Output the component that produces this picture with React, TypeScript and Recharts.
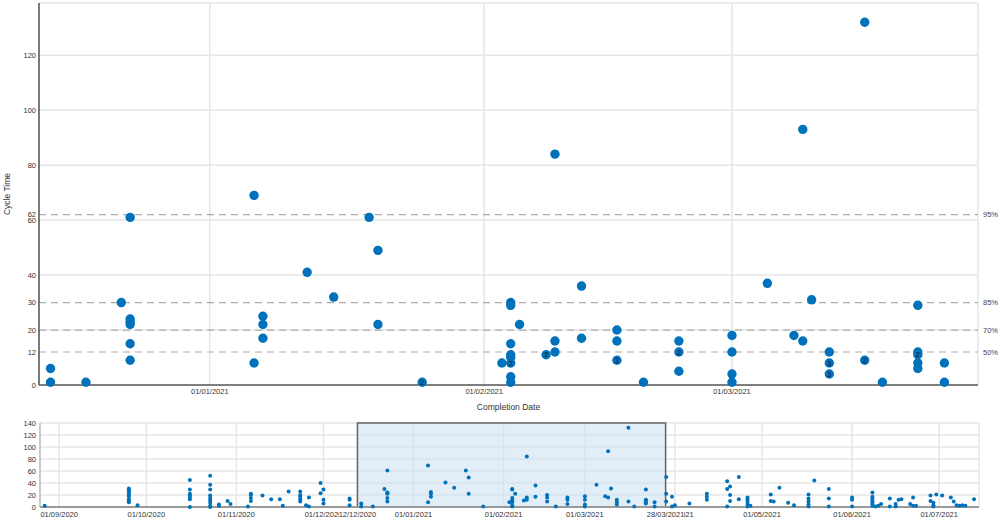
import { ScatterChart, Scatter, XAxis, YAxis, CartesianGrid, ReferenceLine, ReferenceArea } from "recharts";

const BLUE = "#0072bb";
const FONT = "'Liberation Sans', Arial, sans-serif";
const DAY_MS = 86400000;
const BASE = Date.UTC(2021, 0, 1); // day 0 = 01/01/2021

// selected window and full range, in days from 01/01/2021
const windowRange: [number, number] = [-19.3, 86.8];
const fullRange: [number, number] = [-128.6, 194.7];
const cycleMax = 139;

const mainDateTicks = [0, 31, 59];
const cycleTicks = [0, 12, 20, 30, 40, 60, 62, 80, 100, 120];
const gridLevels = [20, 40, 60, 80, 100, 120, cycleMax];
const percentileValues = [12, 20, 30, 62];
const percentileLabels = ["50%", "70%", "85%", "95%"];

const overviewMonthTicks = [-122, -92, -61, -31, 0, 31, 59, 90, 120, 151, 181];
const overviewCycleTicks = [0, 20, 40, 60, 80, 100, 120, 140];

// [day, cycle time, stacked count]
const windowItems: [number, number, number][] = [
  [-18, 6, 1], [-18, 1, 1], [-14, 1, 1], [-10, 30, 1], [-9, 61, 1], [-9, 24, 1], [-9, 23, 1], [-9, 22, 1], [-9, 15, 1], [-9, 9, 1],
  [5, 69, 1], [5, 8, 1], [6, 25, 1], [6, 22, 1], [6, 17, 1],
  [11, 41, 1], [14, 32, 1], [18, 61, 1], [19, 49, 1], [19, 22, 1], [24, 1, 2],
  [33, 8, 1], [34, 30, 2], [34, 29, 1], [35, 22, 1], [34, 15, 1], [34, 11, 1], [34, 10, 1], [34, 8, 2], [34, 3, 1], [34, 1, 1],
  [38, 11, 2], [39, 84, 1], [39, 16, 1], [39, 12, 1],
  [42, 36, 1], [42, 17, 1],
  [46, 20, 1], [46, 16, 1], [46, 9, 3],
  [49, 1, 1],
  [53, 16, 1], [53, 12, 2], [53, 5, 1],
  [59, 18, 1], [59, 12, 1], [59, 4, 1], [59, 1, 1],
  [63, 37, 1], [66, 18, 1], [67, 16, 1], [67, 93, 1], [68, 31, 1],
  [70, 12, 1], [70, 8, 3], [70, 4, 3],
  [74, 132, 1], [74, 9, 2], [76, 1, 1],
  [80, 29, 1], [80, 12, 1], [80, 11, 2], [80, 8, 1], [80, 6, 1],
  [83, 8, 1], [83, 1, 1],
];

// [day, cycle time] before the window
const earlierItems: [number, number][] = [
  [-127, 2],
  [-98, 31], [-98, 29], [-98, 26], [-98, 24], [-98, 21], [-98, 18], [-98, 13], [-98, 10], [-98, 8],
  [-95, 3],
  [-77, 45], [-77, 29], [-77, 22], [-77, 19], [-77, 16], [-77, 13], [-77, 0],
  [-70, 52], [-70, 37], [-70, 29], [-70, 19], [-70, 15], [-70, 11], [-70, 7], [-70, 2], [-70, 0],
  [-67, 4], [-67, 2], [-64, 10], [-63, 5],
  [-57, 1], [-56, 22], [-56, 20], [-56, 15], [-56, 10],
  [-52, 19], [-49, 13], [-46, 13], [-45, 2], [-43, 26],
  [-39, 26], [-39, 20], [-39, 17], [-39, 13], [-39, 9],
  [-37, 3], [-36, 1], [-36, 16],
  [-32, 40], [-32, 23], [-31, 29], [-31, 12], [-31, 6],
  [-22, 14], [-22, 12], [-22, 3],
];

// [day, cycle time] after the window
const laterItems: [number, number][] = [
  [87, 50], [87, 22], [87, 9], [89, 17], [89, 1], [90, 3], [95, 6],
  [101, 22], [101, 17], [101, 12],
  [108, 43], [108, 30], [108, 1], [109, 34], [109, 20], [109, 10],
  [112, 50], [112, 13],
  [115, 16], [115, 13], [115, 9], [115, 5], [115, 1], [116, 2],
  [123, 21], [123, 10], [124, 9], [126, 32], [129, 7], [131, 3],
  [136, 21], [136, 14], [136, 9], [136, 4], [136, 1], [138, 44],
  [143, 30], [143, 14], [143, 1],
  [151, 16], [151, 12], [151, 1],
  [158, 24], [158, 17], [158, 14], [158, 11], [158, 8], [158, 5], [158, 2], [159, 1], [160, 2], [161, 5],
  [164, 14], [164, 1], [166, 5], [166, 1], [167, 12], [168, 13],
  [171, 5], [172, 16], [172, 2], [173, 2],
  [178, 19], [178, 10], [179, 7], [179, 3], [179, 1], [180, 21], [182, 19],
  [185, 16], [186, 9], [187, 3], [188, 2], [189, 3], [190, 2], [193, 13],
];

const windowData = windowItems.map(([day, cycle, n]) => ({ day, cycle, n }));
const overviewData = [...earlierItems, ...windowItems.map(([d, c]) => [d, c] as [number, number]), ...laterItems]
  .map(([day, cycle]) => ({ day, cycle }));

const pad = (n: number) => String(n).padStart(2, "0");
const fmtDate = (day: number) => {
  const d = new Date(BASE + day * DAY_MS);
  return `${pad(d.getUTCDate())}/${pad(d.getUTCMonth() + 1)}/${d.getUTCFullYear()}`;
};

const TICK = { fill: "#333", fontSize: 7.5, fontFamily: FONT };

const WindowDot = (p: any) => (
  <g>
    <circle cx={p.cx} cy={p.cy} r={4.7} fill={BLUE} />
    {p.payload.n > 1 && (
      <text x={p.cx} y={p.cy + 2.6} textAnchor="middle" fontSize={7} fontFamily={FONT} fill="#111">{p.payload.n}</text>
    )}
  </g>
);

const SmallDot = (p: any) => <circle cx={p.cx} cy={p.cy} r={2} fill={BLUE} />;

const OverviewTick = (p: any) => {
  const edge = windowRange.includes(p.payload.value);
  return (
    <g>
      {edge && <rect x={p.x - 18.5} y={p.y - 1} width={37} height={11} fill="#fff" />}
      <text x={p.x} y={p.y} dy={7} textAnchor="middle" {...TICK}>{fmtDate(p.payload.value)}</text>
    </g>
  );
};

export default function App() {
  return (
    <div style={{ position: "absolute", left: 0, top: 0, width: 1000, height: 524, background: "#fff", fontFamily: FONT }}>
      <div style={{ position: "absolute", left: 0, top: 0 }}>
        <ScatterChart width={1000} height={415} margin={{ top: 3, right: 22, bottom: 0, left: 0 }}>
          <CartesianGrid horizontal={false} stroke="#e6e6e6" strokeWidth={1.5} />
          {gridLevels.map(v => (
            <ReferenceLine key={"g" + v} y={v} stroke="#e6e6e6" strokeWidth={1.5} />
          ))}
          {percentileValues.map((v, i) => (
            <ReferenceLine key={"p" + v} y={v} stroke="#aaa" strokeWidth={1.2} strokeDasharray="7 5"
              label={{ value: percentileLabels[i], position: "right", offset: 5, fontSize: 7.5, fill: "#444", fontFamily: FONT }} />
          ))}
          <XAxis dataKey="day" type="number" domain={windowRange} ticks={mainDateTicks} interval={0}
            tickFormatter={fmtDate} tick={TICK} tickLine={false} tickSize={0} tickMargin={4} height={30}
            axisLine={{ stroke: "#555", strokeWidth: 1.5 }}
            label={{ value: "Completion Date", position: "insideBottom", offset: 5, fontSize: 8.5, fill: "#333", fontFamily: FONT }} />
          <YAxis dataKey="cycle" type="number" domain={[0, cycleMax]} ticks={cycleTicks} interval={0}
            tick={TICK} tickLine={false} tickSize={0} tickMargin={3} width={39}
            axisLine={{ stroke: "#555", strokeWidth: 1.5 }}
            label={(props: any) => {
              const vb = props.viewBox || { y: 3, height: 382 };
              const cy = vb.y + vb.height / 2;
              return (
                <text x={10} y={cy} transform={`rotate(-90 10 ${cy})`} textAnchor="middle" fontSize={8.5} fill="#333" fontFamily={FONT}>
                  Cycle Time
                </text>
              );
            }} />
          <Scatter data={windowData} shape={WindowDot} isAnimationActive={false} />
        </ScatterChart>
      </div>
      <div style={{ position: "absolute", left: 0, top: 415 }}>
        <ScatterChart width={1000} height={109} margin={{ top: 8, right: 21, bottom: 0, left: 0 }}>
          <CartesianGrid stroke="#e6e6e6" strokeWidth={1.5} />
          <ReferenceArea x1={windowRange[0]} x2={windowRange[1]} y1={0} y2={140}
            fill="#cfe2f2" fillOpacity={0.6} stroke="#666" strokeWidth={1.5} />
          <XAxis dataKey="day" type="number" domain={fullRange} ticks={[...overviewMonthTicks, ...windowRange]} interval={0}
            tick={OverviewTick} tickLine={false} tickSize={0} tickMargin={3} height={17}
            axisLine={{ stroke: "#999", strokeWidth: 2 }} />
          <YAxis dataKey="cycle" type="number" domain={[0, 140]} ticks={overviewCycleTicks} interval={0}
            tick={TICK} tickLine={false} tickSize={0} tickMargin={4} width={40}
            axisLine={{ stroke: "#aaa", strokeWidth: 1 }} />
          <Scatter data={overviewData} shape={SmallDot} isAnimationActive={false} />
        </ScatterChart>
      </div>
    </div>
  );
}
